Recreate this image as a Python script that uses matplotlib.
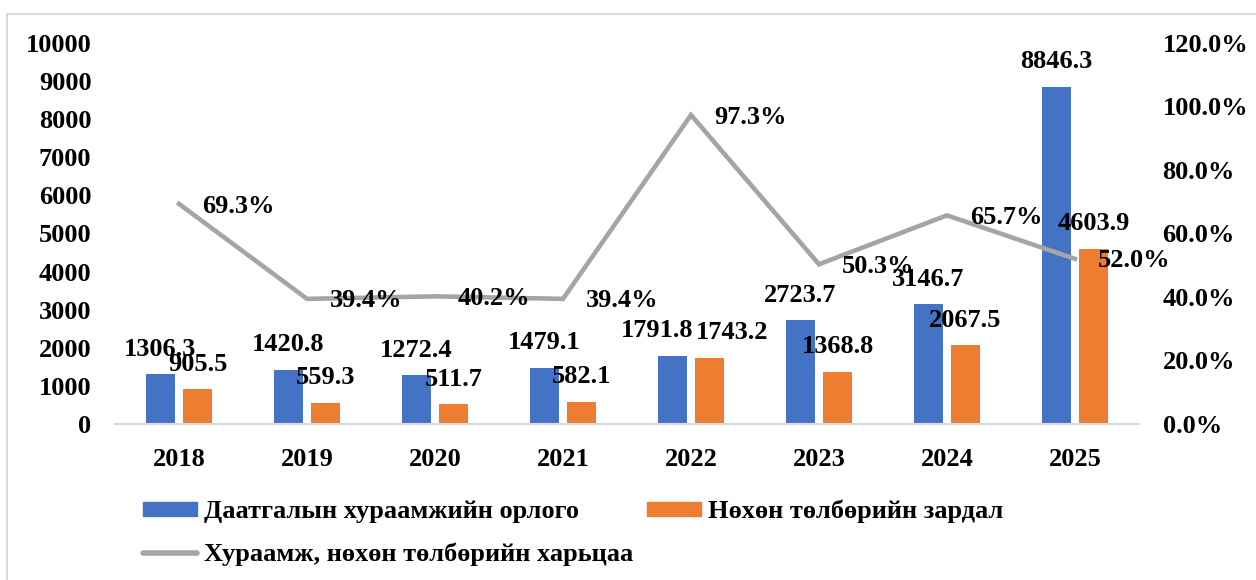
import matplotlib.pyplot as plt
from matplotlib.patches import Rectangle
from matplotlib.lines import Line2D
from matplotlib.ticker import FuncFormatter
import numpy as np

# ==============================
# Өгөгдөл
# ==============================
years = ['2018', '2019', '2020', '2021', '2022', '2023', '2024', '2025']
orlogo = [1306.3, 1420.8, 1272.4, 1479.1, 1791.8, 2723.7, 3146.7, 8846.3]
zardal = [905.5, 559.3, 511.7, 582.1, 1743.2, 1368.8, 2067.5, 4603.9]
hariltsaa = [69.3, 39.4, 40.2, 39.4, 97.3, 50.3, 65.7, 52.0]

lbl_orlogo = 'Даатгалын хураамжийн орлого'
lbl_zardal = 'Нөхөн төлбөрийн зардал'
lbl_hariltsaa = 'Хураамж, нөхөн төлбөрийн харьцаа'

blue = '#4472C4'
orange = '#ED7D31'
gray = '#A5A5A5'

plt.rcParams['font.family'] = ['Liberation Serif', 'DejaVu Serif']
plt.rcParams['font.weight'] = 'bold'
fs = 19

fig = plt.figure(figsize=(12.56, 5.8), dpi=100)
ax = fig.add_axes([0.0916, 0.269, 0.8152, 0.657])
ax2 = ax.twinx()

x = np.arange(len(years))
w = 0.227
off = 0.145

ax.bar(x - off, orlogo, width=w, color=blue, zorder=2)
ax.bar(x + off, zardal, width=w, color=orange, zorder=2)

# 2022 оны шошгууд давхцахгүйн тулд бага зэрэг зөөнө
nudge = {4: 11}
for i, (xi, v) in enumerate(zip(x - off, orlogo)):
    ax.annotate(f'{v:.1f}', (xi, v), xytext=(-nudge.get(i, 0), 18), textcoords='offset points',
                ha='center', va='center', fontsize=fs, fontweight='bold')
for i, (xi, v) in enumerate(zip(x + off, zardal)):
    ax.annotate(f'{v:.1f}', (xi, v), xytext=(nudge.get(i, 0) + 5 * (i == 4), 18),
                textcoords='offset points',
                ha='center', va='center', fontsize=fs, fontweight='bold')

ratio = [r / 100 for r in hariltsaa]
ax2.plot(x, ratio, color=gray, lw=3.3, solid_joinstyle='miter', zorder=3)
for xi, r, v in zip(x, ratio, hariltsaa):
    ax2.annotate(f'{v:.1f}%', (xi, r), xytext=(16.5, -1.5), textcoords='offset points',
                 ha='left', va='center', fontsize=fs, fontweight='bold', zorder=5)

ax.set_xlim(-0.5, len(years) - 0.5)
ax.set_ylim(0, 10000)
ax.set_yticks(range(0, 10001, 1000))
ax2.set_ylim(0, 1.2)
ax2.set_yticks(np.arange(0, 1.21, 0.2))
ax2.yaxis.set_major_formatter(FuncFormatter(lambda v, p: f'{v * 100:.1f}%'))

ax.set_xticks(x)
ax.set_xticklabels(years)

for a in (ax, ax2):
    for s in ('top', 'left', 'right'):
        a.spines[s].set_visible(False)
    a.spines['bottom'].set_color('#D9D9D9')
    a.spines['bottom'].set_linewidth(1.5)
    a.tick_params(length=0, labelsize=fs)
ax.tick_params(axis='y', pad=17)
ax2.tick_params(axis='y', pad=17)
ax.tick_params(axis='x', pad=17)

# Тайлбар
handles = [Rectangle((0, 0), 1, 1, color=blue),
           Line2D([], [], color=gray, lw=4, solid_capstyle='round'),
           Rectangle((0, 0), 1, 1, color=orange)]
labels = [lbl_orlogo, lbl_hariltsaa, lbl_zardal]
fig.legend(handles, labels, ncol=2, loc='upper left', bbox_to_anchor=(0.114, 0.138),
           frameon=False, fontsize=fs, handlelength=2.05, handleheight=0.4,
           handletextpad=0.27, columnspacing=0.5, labelspacing=0.72, borderpad=0,
           borderaxespad=0)

# Хүрээ
fig.patches.append(Rectangle((7 / 1256, -0.1), 1.2, 0.1 + (580 - 14) / 580,
                             transform=fig.transFigure, fill=False,
                             edgecolor='#D9D9D9', lw=1.5))

fig.savefig('out.png', dpi=100)
